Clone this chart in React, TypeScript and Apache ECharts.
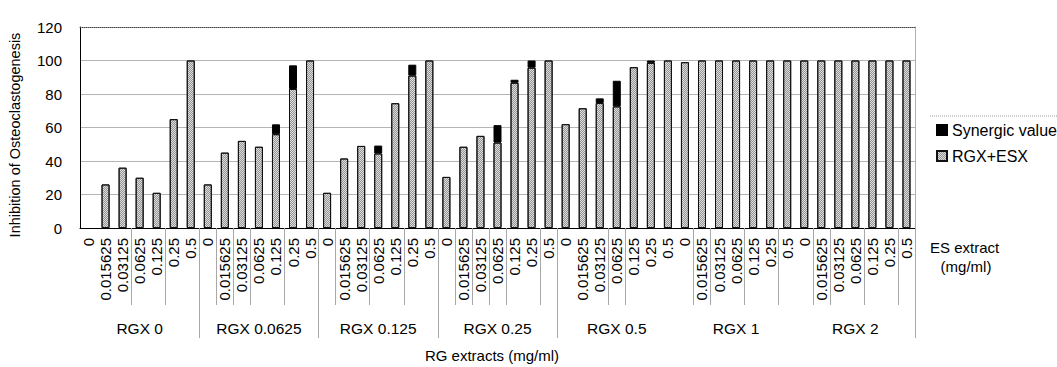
import React, { useEffect, useRef } from 'react';
import * as echarts from 'echarts';

// ES extract concentrations (mg/ml), repeated inside each RGX group
const esLevels = ['0', '0.015625', '0.03125', '0.0625', '0.125', '0.25', '0.5'];
// RG extract groups (mg/ml)
const rgxGroups = ['RGX 0', 'RGX 0.0625', 'RGX 0.125', 'RGX 0.25', 'RGX 0.5', 'RGX 1', 'RGX 2'];

// RGX+ESX (combined) inhibition values, one array per RGX group
const combinedRGX0 = [0, 26, 36, 30, 21, 65, 100];
const combinedRGX00625 = [26, 45, 52, 48.5, 56, 83, 100];
const combinedRGX0125 = [21, 41.5, 49, 44.5, 74.5, 91, 100];
const combinedRGX025 = [30.5, 48.5, 55, 51, 86.7, 95.7, 100];
const combinedRGX05 = [62, 71.5, 74.6, 72.6, 96, 98.6, 100];
const combinedRGX1 = [99, 100, 100, 100, 100, 100, 100];
const combinedRGX2 = [100, 100, 100, 100, 100, 100, 100];

// Synergic value (stacked on top of the combined value)
const synergyRGX0 = [0, 0, 0, 0, 0, 0, 0];
const synergyRGX00625 = [0, 0, 0, 0, 5.9, 14.1, 0];
const synergyRGX0125 = [0, 0, 0, 4.7, 0, 6.5, 0];
const synergyRGX025 = [0, 0, 0, 10.4, 1.8, 4.3, 0];
const synergyRGX05 = [0, 0, 2.8, 15.3, 0, 1.4, 0];
const synergyRGX1 = [0, 0, 0, 0, 0, 0, 0];
const synergyRGX2 = [0, 0, 0, 0, 0, 0, 0];

const yTicks = { min: 0, max: 120, interval: 20 };

const combinedAll = [
  combinedRGX0, combinedRGX00625, combinedRGX0125, combinedRGX025,
  combinedRGX05, combinedRGX1, combinedRGX2,
];
const synergyAll = [
  synergyRGX0, synergyRGX00625, synergyRGX0125, synergyRGX025,
  synergyRGX05, synergyRGX1, synergyRGX2,
];

// which category-boundary tick lines are drawn below the axis (as in the original)
const innerTickIdx = [3, 5, 8, 9, 10, 12, 15, 17, 19, 22, 23, 24, 25, 27, 31, 32, 36, 37, 39, 41, 43, 44, 46, 48];
const groupTickIdx = [1, 2, 3, 4];

const FONT = '"Liberation Sans", Arial, Helvetica, sans-serif';

export default function App() {
  const ref = useRef<HTMLDivElement>(null);

  useEffect(() => {
    if (!ref.current) return;
    const chart = echarts.init(ref.current, undefined, { renderer: 'svg' });

    const categories: string[] = [];
    rgxGroups.forEach((g) => esLevels.forEach((e) => categories.push(g + '|' + e)));
    const combinedFlat = combinedAll.flat().map((v) => (v === 0 ? null : v));
    const synergyFlat = synergyAll.flat().map((v) => (v === 0 ? null : v));

    const option: any = {
      animation: false,
      backgroundColor: '#ffffff',
      textStyle: { fontFamily: FONT, color: '#000' },
      grid: { left: 80, right: 142, top: 27, bottom: 139, containLabel: false },
      legend: {
        orient: 'vertical',
        left: 936,
        top: 122,
        padding: 0,
        itemWidth: 10,
        itemHeight: 10,
        itemGap: 10,
        icon: 'rect',
        data: ['Synergic value', 'RGX+ESX'],
        textStyle: { fontSize: 16, color: '#000', fontFamily: FONT },
      },
      xAxis: [
        {
          type: 'category',
          data: categories,
          position: 'bottom',
          axisLine: { show: true, onZero: false, lineStyle: { color: '#000', width: 1 } },
          axisTick: {
            show: true,
            length: 77,
            interval: (i: number) => innerTickIdx.includes(i),
            lineStyle: { color: '#a8a8a8' },
          },
          axisLabel: {
            interval: 0,
            rotate: 90,
            fontSize: 15,
            color: '#000',
            margin: 10,
            fontFamily: FONT,
            formatter: (v: string) => v.split('|')[1],
          },
          splitLine: { show: false },
        },
        {
          type: 'category',
          data: rgxGroups,
          position: 'bottom',
          axisLine: { show: false, onZero: false },
          axisTick: {
            show: true,
            length: 110,
            interval: (i: number) => groupTickIdx.includes(i),
            lineStyle: { color: '#a8a8a8' },
          },
          axisLabel: { interval: 0, fontSize: 15.5, color: '#000', margin: 92, fontFamily: FONT },
          splitLine: { show: false },
        },
        {
          type: 'category',
          data: categories,
          position: 'top',
          axisLine: { show: true, onZero: false, lineStyle: { color: '#444', width: 1, type: [1, 1] } },
          axisTick: { show: false },
          axisLabel: { show: false },
          splitLine: { show: false },
        },
      ],
      yAxis: [
        {
          type: 'value',
          min: yTicks.min,
          max: yTicks.max,
          interval: yTicks.interval,
          axisLine: { show: true, onZero: false, lineStyle: { color: '#000' } },
          axisTick: { show: false },
          axisLabel: { fontSize: 15, color: '#000', margin: 18, fontFamily: FONT },
          splitLine: { show: true, showMaxLine: false, lineStyle: { color: '#b4b4b4', width: 1 } },
        },
        {
          type: 'value',
          position: 'right',
          min: yTicks.min,
          max: yTicks.max,
          interval: yTicks.interval,
          axisLine: { show: true, onZero: false, lineStyle: { color: '#b0b0b0' } },
          axisTick: { show: false },
          axisLabel: { show: false },
          splitLine: { show: false },
        },
      ],
      series: [
        {
          name: 'RGX+ESX',
          type: 'bar',
          stack: 'total',
          xAxisIndex: 0,
          yAxisIndex: 0,
          barWidth: 8,
          data: combinedFlat,
          itemStyle: {
            color: '#dcdcdc',
            borderColor: '#111',
            borderWidth: 1,
            decal: {
              symbol: 'rect',
              symbolSize: 1,
              color: 'rgba(90,90,90,0.55)',
              dashArrayX: [[1, 1], [0, 1, 1, 0]],
              dashArrayY: [1, 0],
              rotation: 0,
              maxTileWidth: 64,
              maxTileHeight: 64,
            },
          },
        },
        {
          name: 'Synergic value',
          type: 'bar',
          stack: 'total',
          xAxisIndex: 0,
          yAxisIndex: 0,
          barWidth: 8,
          data: synergyFlat,
          itemStyle: { color: '#000', borderColor: '#000', borderWidth: 1 },
        },
      ],
      graphic: [
        {
          type: 'text',
          x: 15,
          y: 135,
          rotation: Math.PI / 2,
          style: {
            text: 'Inhibition of Osteoclastogenesis',
            fontSize: 14.5,
            fontFamily: FONT,
            fill: '#000',
            textAlign: 'center',
            textVerticalAlign: 'middle',
            align: 'center',
            verticalAlign: 'middle',
          },
        },
        {
          type: 'text',
          x: 492,
          y: 355,
          style: {
            text: 'RG extracts (mg/ml)',
            fontSize: 15,
            fontFamily: FONT,
            fill: '#000',
            textAlign: 'center',
            textVerticalAlign: 'middle',
            align: 'center',
            verticalAlign: 'middle',
          },
        },
        {
          type: 'text',
          x: 930,
          y: 247,
          style: {
            text: 'ES extract',
            fontSize: 15,
            fontFamily: FONT,
            fill: '#000',
            textAlign: 'left',
            textVerticalAlign: 'middle',
            align: 'left',
            verticalAlign: 'middle',
          },
        },
        {
          type: 'text',
          x: 966,
          y: 266,
          style: {
            text: '(mg/ml)',
            fontSize: 15,
            fontFamily: FONT,
            fill: '#000',
            textAlign: 'center',
            textVerticalAlign: 'middle',
            align: 'center',
            verticalAlign: 'middle',
          },
        },
        {
          type: 'line',
          shape: { x1: 930, y1: 116, x2: 1057, y2: 116 },
          style: { stroke: '#999', lineWidth: 1, lineDash: [1, 1] },
        },
      ],
    };

    chart.setOption(option);
    return () => chart.dispose();
  }, []);

  return (
    <div
      ref={ref}
      style={{ position: 'fixed', left: 0, top: 0, width: 1057, height: 367, background: '#fff' }}
    />
  );
}
